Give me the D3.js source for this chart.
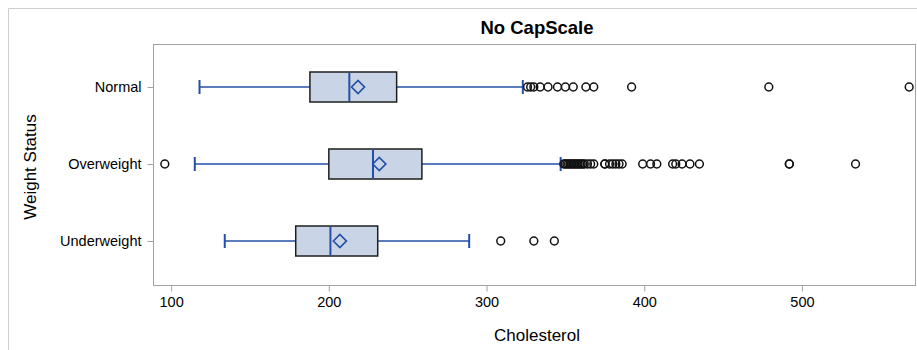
<!DOCTYPE html>
<html>
<head>
<meta charset="utf-8">
<script src="https://cdn.jsdelivr.net/npm/d3@7"></script>
<style>
  html, body { margin: 0; padding: 0; background: #fff; }
  svg { display: block; font-family: "Liberation Sans", Arial, sans-serif; }
</style>
</head>
<body>
<svg id="chart" width="917" height="350"></svg>
<script>
// Cholesterol by weight status: box summary per group plus outliers
const categories = ["Normal", "Overweight", "Underweight"];
const whiskerLow = [118, 115, 134];
const q1 = [188, 200, 179];
const median = [213, 228, 201];
const q3 = [243, 259, 231];
const whiskerHigh = [323, 347, 289];
const mean = [218.5, 232, 207];
const outliers = [
  [326, 328, 330, 334, 339, 345, 350, 355, 363, 368, 392, 479, 568],
  [96, 349, 350, 351, 352, 353, 354, 355, 356, 357, 358, 359, 360, 361, 362, 364,
   366, 368, 375, 375, 378, 380, 382, 384, 386, 399, 404, 408, 418, 420, 424,
   429, 435, 492, 492, 534],
  [309, 330, 343]
];
const xTicks = [100, 200, 300, 400, 500];

const svg = d3.select("#chart");
const frame = { left: 153, right: 915, top: 44, bottom: 285 };
const boxColor = "#2350A6";
const boxFill = "#C9D5E6";
const axisGray = "#a3a3a3";

// outer graph border
svg.append("path")
  .attr("d", "M8.5,350 V8.5 H917")
  .attr("fill", "none").attr("stroke", "#cfcfcf").attr("stroke-width", 1);

const x = d3.scaleLinear().domain([88.5, 571.7]).range([frame.left, frame.right]);
const y = d3.scalePoint().domain(categories).range([87, 241]);

// plot frame
svg.append("rect")
  .attr("x", frame.left + 0.5).attr("y", frame.top + 0.5)
  .attr("width", frame.right - frame.left).attr("height", frame.bottom - frame.top)
  .attr("fill", "none").attr("stroke", axisGray);

// title
svg.append("text")
  .attr("x", 537).attr("y", 34)
  .attr("text-anchor", "middle")
  .attr("font-size", 18.5).attr("font-weight", "bold").attr("fill", "#000")
  .text("No CapScale");

// x axis
const xAxis = svg.append("g")
  .attr("transform", `translate(0,${frame.bottom + 0.5})`)
  .call(d3.axisBottom(x).tickValues(xTicks).tickSize(6).tickPadding(5).tickFormat(d3.format("d")));
xAxis.select(".domain").remove();
xAxis.selectAll(".tick line").attr("stroke", axisGray);
xAxis.selectAll(".tick text").attr("font-size", 14.5).attr("fill", "#000")
  .attr("font-family", "Liberation Sans, Arial, sans-serif");

svg.append("text")
  .attr("x", 537).attr("y", 341)
  .attr("text-anchor", "middle").attr("font-size", 17).attr("fill", "#000")
  .text("Cholesterol");

// y axis
const yAxis = svg.append("g")
  .attr("transform", `translate(${frame.left + 0.5},0)`)
  .call(d3.axisLeft(y).tickSize(6).tickPadding(6));
yAxis.select(".domain").remove();
yAxis.selectAll(".tick line").attr("stroke", axisGray);
yAxis.selectAll(".tick text").attr("font-size", 14.5).attr("fill", "#000")
  .attr("font-family", "Liberation Sans, Arial, sans-serif");

svg.append("text")
  .attr("transform", "translate(36,167) rotate(-90)")
  .attr("text-anchor", "middle").attr("font-size", 17).attr("fill", "#000")
  .text("Weight Status");

// boxes
const boxH = 30, capH = 14, dm = 6.5;
const groups = svg.append("g").selectAll("g")
  .data(categories.map((c, i) => ({ c, i })))
  .join("g");

groups.each(function ({ c, i }) {
  const g = d3.select(this);
  const cy = y(c);

  // whiskers
  g.append("line")
    .attr("x1", x(whiskerLow[i])).attr("x2", x(q1[i]))
    .attr("y1", cy).attr("y2", cy)
    .attr("stroke", boxColor).attr("stroke-width", 1.6);
  g.append("line")
    .attr("x1", x(q3[i])).attr("x2", x(whiskerHigh[i]))
    .attr("y1", cy).attr("y2", cy)
    .attr("stroke", boxColor).attr("stroke-width", 1.6);
  [whiskerLow[i], whiskerHigh[i]].forEach(v => {
    g.append("line")
      .attr("x1", x(v)).attr("x2", x(v))
      .attr("y1", cy - capH / 2).attr("y2", cy + capH / 2)
      .attr("stroke", boxColor).attr("stroke-width", 2);
  });

  // interquartile box
  g.append("rect")
    .attr("x", x(q1[i])).attr("y", cy - boxH / 2)
    .attr("width", x(q3[i]) - x(q1[i])).attr("height", boxH)
    .attr("fill", boxFill).attr("stroke", "#1e1e1e").attr("stroke-width", 1.5);

  // median
  g.append("line")
    .attr("x1", x(median[i])).attr("x2", x(median[i]))
    .attr("y1", cy - boxH / 2 + 0.8).attr("y2", cy + boxH / 2 - 0.8)
    .attr("stroke", boxColor).attr("stroke-width", 2);

  // mean diamond
  const mx = x(mean[i]);
  g.append("path")
    .attr("d", `M${mx - dm},${cy} L${mx},${cy - dm} L${mx + dm},${cy} L${mx},${cy + dm} Z`)
    .attr("fill", "none").attr("stroke", boxColor).attr("stroke-width", 1.7);

  // outliers
  g.selectAll("circle")
    .data(outliers[i])
    .join("circle")
    .attr("cx", d => x(d)).attr("cy", cy).attr("r", 3.9)
    .attr("fill", "none").attr("stroke", "#111").attr("stroke-width", 1.5);
});
</script>
</body>
</html>
